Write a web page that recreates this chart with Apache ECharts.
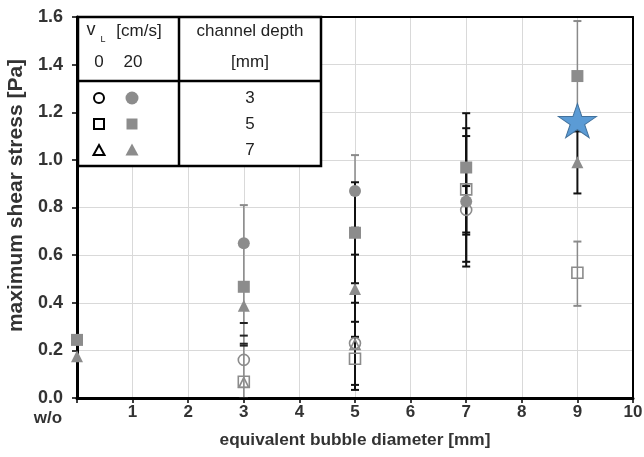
<!DOCTYPE html>
<html>
<head>
<meta charset="utf-8">
<script src="https://cdn.jsdelivr.net/npm/echarts@6/dist/echarts.min.js"></script>
<style>html,body{margin:0;padding:0;background:#fff}#c{width:644px;height:457px}</style>
</head>
<body>
<div id="c"></div>
<script>
// ---- data (x = equivalent bubble diameter [mm], 0 = w/o; y = max shear stress [Pa]) ----
const xTicks = [0, 1, 2, 3, 4, 5, 6, 7, 8, 9, 10];
const xTickLabels = ['w/o', '1', '2', '3', '4', '5', '6', '7', '8', '9', '10'];
const depth3_v0  = [[3, 0.160], [5, 0.230], [7, 0.790]];
const depth3_v20 = [[3, 0.650], [5, 0.869], [7, 0.825]];
const depth5_v0  = [[3, 0.068], [5, 0.165], [7, 0.876], [9, 0.526]];
const depth5_v20 = [[0, 0.244], [3, 0.467], [5, 0.694], [7, 0.968], [9, 1.352]];
const depth7_v0  = [[3, 0.065], [5, 0.225]];
const depth7_v20 = [[0, 0.175], [3, 0.387], [5, 0.458], [9, 0.990]];
// error bars [x, low, high]
const errGray  = [[3, 0.0, 0.81], [5, 0.716, 1.02], [9, 1.12, 1.583], [9, 0.387, 0.657]];
const errDark  = [[3, 0.315, 0.455], [3, 0.0, 0.262], [3, 0.0, 0.228], [3, 0.0, 0.220]];
const errBlack = [[5, 0.482, 0.906], [5, 0.32, 0.602], [5, 0.055, 0.40], [5, 0.034, 0.257],
                  [7, 0.695, 1.196], [7, 0.572, 1.133], [7, 0.552, 1.10], [7, 0.686, 0.89],
                  [9, 0.859, 1.12]];
const starPoint = [[9, 1.165]];

const GRAY = '#8c8c8c';
const FONT = 'Liberation Sans, Arial, sans-serif';
const STAR = 'path://M50 0 L61.23 34.55 L97.55 34.55 L68.17 55.9 L79.39 90.45 L50 69.1 L20.61 90.45 L31.83 55.9 L2.45 34.55 L38.77 34.55 Z';

function errSeries(data, color, width, capColor, drawLine) {
  return {
    type: 'custom', data: data, encode: {x: 0, y: [1, 2]}, clip: true, silent: true,
    renderItem: function (params, api) {
      const x = api.value(0);
      const lo = api.coord([x, api.value(1)]);
      const hi = api.coord([x, api.value(2)]);
      const cw = 4;
      const st = {stroke: color, lineWidth: width};
      const cs = {stroke: capColor || color, lineWidth: 2};
      const ch = [
        {type: 'line', shape: {x1: lo[0] - cw, y1: lo[1], x2: lo[0] + cw, y2: lo[1]}, style: cs},
        {type: 'line', shape: {x1: hi[0] - cw, y1: hi[1], x2: hi[0] + cw, y2: hi[1]}, style: cs}
      ];
      if (drawLine !== false) ch.unshift({type: 'line', shape: {x1: lo[0], y1: lo[1], x2: hi[0], y2: hi[1]}, style: st});
      return {type: 'group', children: ch};
    }
  };
}
function sc(data, symbol, size, filled) {
  return {
    type: 'scatter', data: data, symbol: symbol, symbolSize: size,
    itemStyle: filled ? {color: GRAY, opacity: 1}
                      : {color: 'rgba(255,255,255,0)', borderColor: GRAY, borderWidth: 1.6, opacity: 1}
  };
}

const chart = echarts.init(document.getElementById('c'));
const txt = {fontFamily: FONT, fontSize: 17, fill: '#222'};
function T(x, y, s, extra) { return {type: 'text', x: x, y: y, z: 100, style: Object.assign({}, txt, {text: s, align: 'center', verticalAlign: 'middle'}, extra || {})}; }
const legendG = [
  {type: 'rect', z: 99, shape: {x: 78, y: 17, width: 243, height: 149}, style: {fill: '#fff', stroke: '#000', lineWidth: 2.5}},
  {type: 'line', z: 100, shape: {x1: 78, y1: 81, x2: 321, y2: 81}, style: {stroke: '#000', lineWidth: 2.5}},
  {type: 'line', z: 100, shape: {x1: 179, y1: 17, x2: 179, y2: 166}, style: {stroke: '#000', lineWidth: 2.5}},
  T(91, 30, 'v', {fontSize: 18}),
  T(103, 40, 'L', {fontSize: 9}),
  T(139, 31, '[cm/s]'),
  T(99, 62, '0'),
  T(133, 62, '20'),
  T(250, 31, 'channel depth'),
  T(250, 62, '[mm]'),
  T(250, 98, '3'),
  T(250, 124, '5'),
  T(250, 150, '7'),
  {type: 'circle', z: 100, shape: {cx: 99, cy: 98, r: 5}, style: {fill: 'none', stroke: '#000', lineWidth: 2}},
  {type: 'circle', z: 100, shape: {cx: 132, cy: 98, r: 6.5}, style: {fill: GRAY}},
  {type: 'rect', z: 100, shape: {x: 94, y: 119, width: 10, height: 10}, style: {fill: 'none', stroke: '#000', lineWidth: 2}},
  {type: 'rect', z: 100, shape: {x: 126.5, y: 118.5, width: 11, height: 11}, style: {fill: GRAY}},
  {type: 'polygon', z: 100, shape: {points: [[99, 145], [104.5, 155], [93.5, 155]]}, style: {fill: 'none', stroke: '#000', lineWidth: 2}},
  {type: 'polygon', z: 100, shape: {points: [[132, 143.5], [138.5, 155.5], [125.5, 155.5]]}, style: {fill: GRAY}}
];

chart.setOption({
  animation: false,
  backgroundColor: '#fff',
  textStyle: {fontFamily: FONT},
  grid: {left: 77, right: 11, top: 17, bottom: 59, containLabel: false, outerBoundsMode: 'none'},
  xAxis: [{
    type: 'value', min: 0, max: 10, interval: 1,
    name: 'equivalent bubble diameter [mm]', nameLocation: 'middle', nameGap: 32,
    nameTextStyle: {fontFamily: FONT, fontSize: 17.3, fontWeight: 'bold', color: '#333'},
    axisLine: {show: true, onZero: false, lineStyle: {color: '#000', width: 3}},
    axisTick: {show: true, length: 5, lineStyle: {color: '#000', width: 1.5}},
    splitLine: {show: true, lineStyle: {color: '#d9d9d9', width: 1}},
    axisLabel: {
      fontFamily: FONT, fontSize: 17, fontWeight: 'bold', color: '#333', margin: 6,
      formatter: function (v) { const i = xTicks.indexOf(v); const s = i >= 0 ? xTickLabels[i] : ''; return v === 0 ? '{wo|' + s + '}' : s; },
      rich: {wo: {fontFamily: FONT, fontSize: 17, fontWeight: 'bold', color: '#333', padding: [6, 58, 0, 0]}}
    }
  }, {
    type: 'value', position: 'top', min: 0, max: 10,
    axisLine: {show: true, onZero: false, lineStyle: {color: '#000', width: 2}},
    axisTick: {show: false}, axisLabel: {show: false}, splitLine: {show: false}
  }],
  yAxis: [{
    type: 'value', min: 0, max: 1.6, interval: 0.2,
    name: 'maximum shear stress [Pa]', nameLocation: 'middle', nameRotate: 90, nameGap: 45,
    nameTextStyle: {fontFamily: FONT, fontSize: 21, fontWeight: 'bold', color: '#333', padding: [0, 0, 0, 24]},
    axisLine: {show: true, onZero: false, lineStyle: {color: '#000', width: 3}},
    axisTick: {show: true, length: 5, lineStyle: {color: '#000', width: 1.5}},
    splitLine: {show: true, lineStyle: {color: '#d9d9d9', width: 1}},
    axisLabel: {fontFamily: FONT, fontSize: 18, fontWeight: 'bold', color: '#333', margin: 14,
      formatter: function (v) { return v.toFixed(1); }}
  }, {
    type: 'value', position: 'right', min: 0, max: 1.6,
    axisLine: {show: true, onZero: false, lineStyle: {color: '#000', width: 2}},
    axisTick: {show: false}, axisLabel: {show: false}, splitLine: {show: false}
  }],
  series: [
    errSeries(errGray, '#8a8a8a', 1.5),
    errSeries(errDark, '#666', 1.5, '#222', false),
    errSeries(errBlack, '#111', 2),
    sc(depth3_v0, 'circle', 11, false),
    sc(depth5_v0, 'rect', 11, false),
    sc(depth7_v0, 'triangle', 10, false),
    sc(depth3_v20, 'circle', 12, true),
    sc(depth5_v20, 'rect', 12, true),
    sc(depth7_v20, 'triangle', 12, true),
    {type: 'scatter', data: starPoint, symbol: STAR, symbolSize: [38, 36], symbolKeepAspect: true,
     itemStyle: {color: '#5b9bd5', borderColor: '#41719c', borderWidth: 1, opacity: 1}, z: 5}
  ],
  graphic: legendG
});
</script>
</body>
</html>
